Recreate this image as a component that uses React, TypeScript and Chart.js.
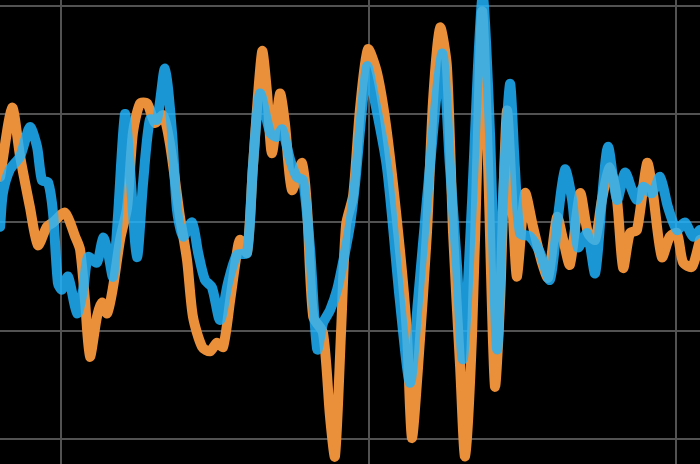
import React, { useEffect, useRef } from "react";
import { Chart, registerables } from "chart.js";

Chart.register(...registerables);

// Grid positions (unlabelled axes)
const xGrid = [2000, 2010, 2020];
const yGrid = [-2, -1, 0, 1, 2];
const X_MIN = 1998.016;
const X_MAX = 2020.78;
const Y_MIN = -2.231;
const Y_MAX = 2.055;

// Orange series
const orangeT = [
  1998.02, 1998.41, 1998.67, 1998.99, 1999.25, 1999.54, 1999.74, 2000.13, 2000.46, 2000.62,
  2000.78, 2000.94, 2001.17, 2001.33, 2001.5, 2001.69, 2001.92, 2002.15, 2002.34, 2002.57,
  2002.8, 2003.06, 2003.32, 2003.54, 2003.87, 2004.1, 2004.29, 2004.59, 2004.85, 2005.07,
  2005.27, 2005.5, 2005.72, 2005.82, 2006.05, 2006.24, 2006.54, 2006.7, 2006.86, 2007.12,
  2007.28, 2007.51, 2007.84, 2008.0, 2008.2, 2008.52, 2008.75, 2008.91, 2009.11, 2009.27,
  2009.5, 2009.72, 2009.98, 2010.28, 2010.6, 2011.02, 2011.25, 2011.41, 2011.61, 2011.9,
  2012.1, 2012.33, 2012.55, 2012.75, 2012.98, 2013.14, 2013.37, 2013.56, 2013.7, 2013.89,
  2014.11, 2014.28, 2014.5, 2014.7, 2014.83, 2015.09, 2015.35, 2015.64, 2015.84, 2016.13,
  2016.33, 2016.55, 2016.88, 2017.14, 2017.37, 2017.59, 2017.85, 2018.08, 2018.28, 2018.5,
  2018.73, 2019.06, 2019.25, 2019.54, 2019.8, 2020.03, 2020.23, 2020.52, 2020.78,
];
const orangeV = [
  0.42, 1.06, 0.61, 0.14, -0.21, -0.04, 0.0, 0.09, -0.13, -0.25,
  -0.72, -1.24, -0.87, -0.74, -0.84, -0.6, -0.16, 0.14, 0.83, 1.1,
  1.1, 0.92, 0.99, 0.73, 0.05, -0.35, -0.87, -1.15, -1.19, -1.11,
  -1.15, -0.72, -0.28, -0.16, -0.28, 0.51, 1.58, 1.2, 0.64, 1.19,
  0.92, 0.3, 0.55, 0.14, -0.87, -1.02, -1.8, -2.16, -0.99, -0.02,
  0.25, 1.04, 1.6, 1.38, 0.83, -0.25, -1.02, -1.99, -1.34, -0.1,
  1.13, 1.8, 1.44, -0.1, -1.34, -2.16, -1.02, 0.83, 1.95, 0.51,
  -1.51, -0.72, 1.03, 0.05, -0.5, 0.27, -0.04, -0.37, -0.51, 0.05,
  -0.16, -0.39, 0.27, -0.1, -0.16, 0.21, 0.51, 0.21, -0.42, -0.1,
  -0.07, 0.55, 0.27, -0.32, -0.13, -0.1, -0.37, -0.41, -0.16,
];

// Blue series
const blueT = [
  1998.02, 1998.11, 1998.34, 1998.67, 1998.99, 1999.22, 1999.38, 1999.58, 1999.74, 1999.9,
  2000.03, 2000.23, 2000.52, 2000.72, 2000.88, 2001.17, 2001.37, 2001.53, 2001.69, 2001.85,
  2002.08, 2002.24, 2002.47, 2002.67, 2002.89, 2003.12, 2003.38, 2003.61, 2003.77, 2003.97,
  2004.26, 2004.46, 2004.68, 2004.91, 2005.17, 2005.43, 2005.72, 2006.05, 2006.24, 2006.47,
  2006.8, 2007.02, 2007.19, 2007.45, 2007.67, 2007.87, 2008.1, 2008.33, 2008.52, 2008.75,
  2008.98, 2009.17, 2009.4, 2009.56, 2009.95, 2010.15, 2010.6, 2011.02, 2011.35, 2011.61,
  2011.9, 2012.39, 2012.65, 2012.88, 2013.07, 2013.37, 2013.56, 2013.72, 2013.95, 2014.18,
  2014.37, 2014.6, 2014.76, 2014.93, 2015.25, 2015.58, 2015.9, 2016.16, 2016.39, 2016.62,
  2016.81, 2017.11, 2017.37, 2017.59, 2017.79, 2018.08, 2018.34, 2018.57, 2018.73, 2018.93,
  2019.22, 2019.48, 2019.74, 2020.03, 2020.29, 2020.55, 2020.78,
];
const blueV = [
  -0.04, 0.27, 0.49, 0.61, 0.88, 0.7, 0.39, 0.37, 0.09, -0.56,
  -0.62, -0.5, -0.84, -0.62, -0.32, -0.37, -0.14, -0.28, -0.5, 0.05,
  1.0, 0.51, -0.32, 0.37, 0.95, 0.95, 1.42, 0.83, 0.12, -0.13,
  0.0, -0.28, -0.53, -0.6, -0.9, -0.56, -0.3, -0.28, 0.51, 1.19,
  0.83, 0.79, 0.86, 0.58, 0.42, 0.39, -0.25, -1.17, -0.93, -0.81,
  -0.62, -0.37, -0.02, 0.35, 1.44, 1.2, 0.51, -0.72, -1.48, -0.72,
  0.21, 1.56, 0.51, -0.41, -1.26, 0.21, 1.44, 2.1, 0.83, -1.17,
  0.21, 1.28, 0.51, -0.1, -0.13, -0.28, -0.53, 0.05, 0.49, 0.21,
  -0.23, -0.1, -0.47, 0.21, 0.7, 0.21, 0.46, 0.3, 0.21, 0.33,
  0.27, 0.42, 0.14, -0.07, 0.0, -0.13, -0.07,
];

const GRID_COLOR = "#525252";

export default function App() {
  const ref = useRef<HTMLCanvasElement>(null);

  useEffect(() => {
    document.body.style.margin = "0";
    document.body.style.background = "#000";
    const canvas = ref.current;
    if (!canvas) return;
    const chart = new Chart(canvas, {
      type: "line",
      data: {
        datasets: [
          {
            label: "Blue",
            data: blueT.map((t, i) => ({ x: t, y: blueV[i] })),
            borderColor: "rgba(32,180,255,0.83)",
            borderWidth: 10,
            pointRadius: 0,
            tension: 0.25,
            borderCapStyle: "round",
            borderJoinStyle: "round",
            fill: false,
            clip: false,
            order: 0,
          },
          {
            label: "Orange",
            data: orangeT.map((t, i) => ({ x: t, y: orangeV[i] })),
            borderColor: "rgb(234,143,58)",
            borderWidth: 10,
            pointRadius: 0,
            tension: 0.25,
            borderCapStyle: "round",
            borderJoinStyle: "round",
            fill: false,
            clip: false,
            order: 1,
          },
        ],
      },
      options: {
        animation: false,
        responsive: false,
        devicePixelRatio: 1,
        layout: { padding: 0, autoPadding: false },
        plugins: { legend: { display: false }, tooltip: { enabled: false } },
        scales: {
          x: {
            type: "linear",
            min: X_MIN,
            max: X_MAX,
            afterBuildTicks: (s: any) => {
              s.ticks = xGrid.map((v) => ({ value: v }));
            },
            ticks: { display: false },
            grid: { color: GRID_COLOR, lineWidth: 2, drawTicks: false },
            border: { display: false },
          },
          y: {
            type: "linear",
            min: Y_MIN,
            max: Y_MAX,
            afterBuildTicks: (s: any) => {
              s.ticks = yGrid.map((v) => ({ value: v }));
            },
            ticks: { display: false },
            grid: { color: GRID_COLOR, lineWidth: 2, drawTicks: false },
            border: { display: false },
          },
        },
      },
    });
    return () => chart.destroy();
  }, []);

  return (
    <div style={{ position: "fixed", left: 0, top: 0, width: 700, height: 464, background: "#000" }}>
      <canvas ref={ref} width={700} height={464} style={{ display: "block" }} />
    </div>
  );
}
